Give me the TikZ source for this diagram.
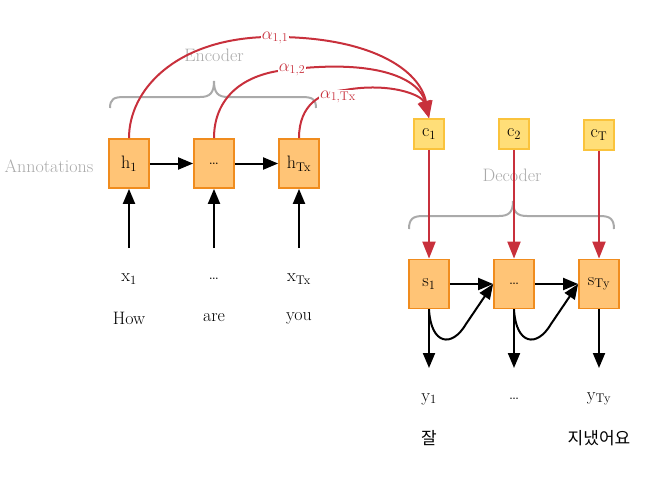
\documentclass[tikz,border=0pt]{standalone}
\usepackage{fontspec}
\newfontfamily\kofont{Noto Sans CJK KR}
\usetikzlibrary{calc, arrows.meta}
\definecolor{boxfill}{RGB}{255,196,118}
\definecolor{boxline}{RGB}{240,140,30}
\definecolor{ctxfill}{RGB}{255,222,120}
\definecolor{ctxline}{RGB}{250,195,60}
\definecolor{attn}{RGB}{200,48,60}
\definecolor{note}{RGB}{170,170,170}

\begin{document}
\begin{tikzpicture}[x=1pt,y=-1pt,
  font=\fontsize{18}{20}\selectfont,
  cell/.style={draw=boxline, fill=boxfill, line width=1.8pt, minimum width=40pt, minimum height=49pt, inner sep=0pt},
  ctx/.style={draw=ctxline, fill=ctxfill, line width=1.8pt, minimum size=30pt, inner sep=0pt},
  flow/.style={line width=2pt, -{Triangle[length=15pt,width=12pt]}},
  attw/.style={draw=attn, line width=2pt, -{Triangle[length=17pt,width=13pt]}},
  brc/.style={draw=note, line width=2pt},
  notetext/.style={text=note},
  alab/.style={text=attn, fill=white, inner sep=1pt, font=\fontsize{18}{20}\selectfont}]
      \useasboundingbox (0,0) rectangle (668,493);

      % encoder
      \node[cell] (h1) at (129,163.5) {h\textsubscript{1}};
      \node[cell] (h2) at (214,163.5) {\ldots};
      \node[cell] (hT) at (299,163.5) {h\textsubscript{Tx}};
      \node[notetext] (annot) at (49,166) {Annotations};

      \node (x1) at (129,279) {x\textsubscript{1}};
      \node (x2) at (214,279) {\ldots};
      \node (xT) at (299,279) {x\textsubscript{Tx}};
      \node (w1) at (129,318) {How};
      \node (w2) at (214,318) {are};
      \node (wT) at (299,318) {you};

      \draw[flow] ($(x1)+(0,-31)$) -- (h1);
      \draw[flow] ($(x2)+(0,-31)$) -- (h2);
      \draw[flow] ($(xT)+(0,-31)$) -- (hT);
      \draw[flow] (h1) -- (h2);
      \draw[flow] (h2) -- (hT);

      \draw[brc] (110,108) .. controls (110,99) and (114,97) .. (124,97) -- (200,97)
        .. controls (210,97) and (214,93) .. (214,81) .. controls (214,93) and (218,97) .. (228,97)
        -- (302,97) .. controls (312,97) and (316,99) .. (316,108);
      \node[notetext] (enc) at (214,55) {Encoder};

      % decoder
      \node[ctx] (c1) at (429,134) {c\textsubscript{1}};
      \node[ctx] (c2) at (514,134) {c\textsubscript{2}};
      \node[ctx] (cT) at (599,135) {c\textsubscript{T}};

      \node[cell] (s1) at (429,284) {s\textsubscript{1}};
      \node[cell] (s2) at (514,284) {\ldots};
      \node[cell] (sT) at (599,284) {s\textsubscript{Ty}};

      \draw[brc] (409,229) .. controls (409,219) and (413,216) .. (423,216) -- (499,216)
        .. controls (509,216) and (513,212) .. (513,201) .. controls (513,212) and (517,216) .. (527,216)
        -- (600,216) .. controls (610,216) and (614,219) .. (614,229);
      \node[notetext] (dec) at (512,175) {Decoder};

      \draw[attw] (c1) -- (s1);
      \draw[attw] (c2) -- (s2);
      \draw[attw] (cT) -- (sT);

      \draw[flow] (s1) -- (s2);
      \draw[flow] (s2) -- (sT);
      \draw[flow] (s1.south) .. controls (431,345) and (452,348) .. (466,324) -- (s2.west);
      \draw[flow] (s2.south) .. controls (516,345) and (537,348) .. (551,324) -- (sT.west);

      \node (y1) at (429,399) {y\textsubscript{1}};
      \node (y2) at (514,399) {\ldots};
      \node (yT) at (599,399) {y\textsubscript{Ty}};
      \node[font=\kofont\fontsize{17}{19}\selectfont] (k1) at (429,438) {잘};
      \node[font=\kofont\fontsize{17}{19}\selectfont] (kT) at (599,438) {지냈어요};

      \draw[flow] (s1) -- ($(y1)+(0,-31)$);
      \draw[flow] (s2) -- ($(y2)+(0,-31)$);
      \draw[flow] (sT) -- ($(yT)+(0,-31)$);

      % attention weights
      \draw[attw] (h1.north) .. controls (129,90) and (175,40) .. (265,37)
        .. controls (370,35) and (420,70) .. (c1.north);
      \draw[attw] (h2.north) .. controls (214,100) and (240,75) .. (285,70)
        .. controls (380,58) and (420,80) .. (c1.north);
      \draw[attw] (hT.north) .. controls (299,105) and (320,92) .. (345,90)
        .. controls (390,82) and (422,95) .. (c1.north);
      \node[alab] (a1) at (275,38) {$\alpha_{1,1}$};
      \node[alab] (a2) at (292,70) {$\alpha_{1,2}$};
      \node[alab] (a3) at (338,97) {$\alpha_{1,\mathrm{Tx}}$};
\end{tikzpicture}
\end{document}
